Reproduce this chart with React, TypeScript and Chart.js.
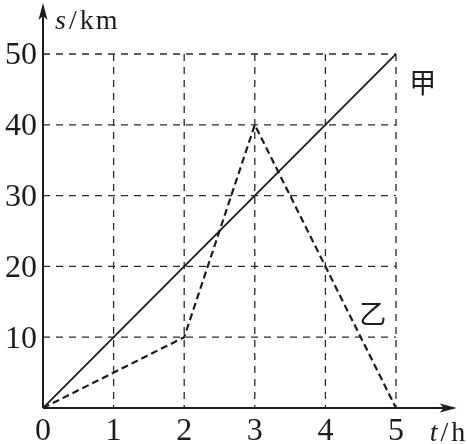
import React, { useEffect, useRef } from 'react';
import { Chart, registerables } from 'chart.js';

Chart.register(...registerables);

// ---- data ----
const timeTicks = [0, 1, 2, 3, 4, 5];
const distTicks = [0, 10, 20, 30, 40, 50];
const jiaTime = [0, 5];
const jiaDist = [0, 50];
const yiTime = [0, 2, 3, 5];
const yiDist = [0, 10, 40, 0];
const seriesNames = ['甲', '乙'];
const jiaLabelAt = [5.38, 45.9];
const yiLabelAt = [4.67, 13.3];
const xAxisEnd = 5.86;
const yAxisEnd = 57.2;
const xTitle = ['t', '/', 'h'];
const yTitle = ['s', '/', 'km'];

const INK = '#1c1c1c';
const SERIF = '"Liberation Serif", "Times New Roman", serif';

function drawTitle(ctx: any, parts: string[], x: number, base: number) {
  let tx = x;
  ctx.font = `italic 28px ${SERIF}`;
  ctx.fillText(parts[0], tx, base);
  tx += ctx.measureText(parts[0]).width + 3;
  ctx.font = `28px ${SERIF}`;
  ctx.fillText(parts[1], tx, base);
  tx += ctx.measureText(parts[1]).width + 3;
  ctx.letterSpacing = '2px';
  ctx.fillText(parts[2], tx, base);
  ctx.letterSpacing = '0px';
}

const decor = {
  id: 'decor',
  beforeDatasetsDraw(chart: any) {
    const { ctx, scales } = chart;
    const xs = scales.x;
    const ys = scales.y;
    const x0 = xs.getPixelForValue(0);
    const y0 = ys.getPixelForValue(0);
    const gx = xs.getPixelForValue(timeTicks[timeTicks.length - 1]);
    const gy = ys.getPixelForValue(distTicks[distTicks.length - 1]);
    ctx.save();
    ctx.strokeStyle = '#2a2a2a';
    ctx.lineWidth = 1.3;
    ctx.setLineDash([7, 6]);
    timeTicks.slice(1).forEach((t) => {
      const px = xs.getPixelForValue(t);
      ctx.beginPath();
      ctx.moveTo(px, gy);
      ctx.lineTo(px, y0);
      ctx.stroke();
    });
    distTicks.slice(1).forEach((d) => {
      const py = ys.getPixelForValue(d);
      ctx.beginPath();
      ctx.moveTo(x0, py);
      ctx.lineTo(gx, py);
      ctx.stroke();
    });
    ctx.setLineDash([]);
    // axes
    const xe = xs.getPixelForValue(xAxisEnd);
    const ye = ys.getPixelForValue(yAxisEnd);
    ctx.strokeStyle = INK;
    ctx.fillStyle = INK;
    ctx.lineWidth = 2;
    ctx.beginPath();
    ctx.moveTo(x0, y0);
    ctx.lineTo(xe - 8, y0);
    ctx.moveTo(x0, y0);
    ctx.lineTo(x0, ye + 8);
    ctx.stroke();
    ctx.beginPath();
    ctx.moveTo(xe, y0);
    ctx.lineTo(xe - 17, y0 - 4.5);
    ctx.lineTo(xe - 13, y0);
    ctx.lineTo(xe - 17, y0 + 4.5);
    ctx.closePath();
    ctx.fill();
    ctx.beginPath();
    ctx.moveTo(x0, ye);
    ctx.lineTo(x0 - 4.5, ye + 17);
    ctx.lineTo(x0, ye + 13);
    ctx.lineTo(x0 + 4.5, ye + 17);
    ctx.closePath();
    ctx.fill();
    ctx.restore();
  },
  afterDraw(chart: any) {
    const { ctx, scales } = chart;
    const xs = scales.x;
    const ys = scales.y;
    const x0 = xs.getPixelForValue(0);
    const y0 = ys.getPixelForValue(0);
    const ye = ys.getPixelForValue(yAxisEnd);
    const xe = xs.getPixelForValue(xAxisEnd);
    ctx.save();
    ctx.fillStyle = INK;
    ctx.textBaseline = 'alphabetic';
    ctx.textAlign = 'left';
    drawTitle(ctx, yTitle, x0 + 12, ye + 26);
    drawTitle(ctx, xTitle, xe - 27, y0 + 33);
    // series labels
    ctx.font = `27px "Noto Sans CJK SC", sans-serif`;
    ctx.textAlign = 'center';
    ctx.textBaseline = 'middle';
    ctx.fillText(seriesNames[0], xs.getPixelForValue(jiaLabelAt[0]), ys.getPixelForValue(jiaLabelAt[1]));
    ctx.fillText(seriesNames[1], xs.getPixelForValue(yiLabelAt[0]), ys.getPixelForValue(yiLabelAt[1]));
    ctx.restore();
  },
};

export default function App() {
  const ref = useRef<HTMLCanvasElement>(null);
  useEffect(() => {
    if (!ref.current) return;
    const chart = new Chart(ref.current, {
      type: 'line',
      data: {
        datasets: [
          {
            label: seriesNames[0],
            data: jiaTime.map((t, i) => ({ x: t, y: jiaDist[i] })),
            borderColor: INK,
            borderWidth: 1.8,
            pointRadius: 0,
            tension: 0,
          },
          {
            label: seriesNames[1],
            data: yiTime.map((t, i) => ({ x: t, y: yiDist[i] })),
            borderColor: INK,
            borderWidth: 2.2,
            borderDash: [7, 4],
            pointRadius: 0,
            tension: 0,
          },
        ],
      },
      options: {
        animation: false,
        responsive: false,
        devicePixelRatio: 1,
        layout: { padding: { top: 54, right: 71, left: 0, bottom: 0 } },
        plugins: { legend: { display: false }, tooltip: { enabled: false } },
        scales: {
          x: {
            type: 'linear',
            min: timeTicks[0],
            max: timeTicks[timeTicks.length - 1],
            grid: { display: false, drawTicks: false },
            border: { display: false },
            afterBuildTicks: (s: any) => {
              s.ticks = timeTicks.map((v) => ({ value: v }));
            },
            afterFit: (s: any) => {
              s.height = 36;
            },
            ticks: {
              autoSkip: false,
              maxRotation: 0,
              padding: 4,
              color: INK,
              font: { family: SERIF, size: 32 },
            },
          },
          y: {
            type: 'linear',
            min: distTicks[0],
            max: distTicks[distTicks.length - 1],
            grid: { display: false, drawTicks: false },
            border: { display: false },
            afterBuildTicks: (s: any) => {
              s.ticks = distTicks.map((v) => ({ value: v }));
            },
            afterFit: (s: any) => {
              s.width = 43;
            },
            ticks: {
              autoSkip: false,
              padding: 6,
              labelOffset: 2,
              color: INK,
              font: { family: SERIF, size: 32 },
              callback: (v: any) => (v === 0 ? '' : String(v)),
            },
          },
        },
      },
      plugins: [decor],
    });
    return () => chart.destroy();
  }, []);
  return (
    <div style={{ position: 'absolute', left: 0, top: 0, width: 467, height: 444, background: '#fff' }}>
      <canvas ref={ref} width={467} height={444} style={{ display: 'block', width: 467, height: 444 }} />
    </div>
  );
}
